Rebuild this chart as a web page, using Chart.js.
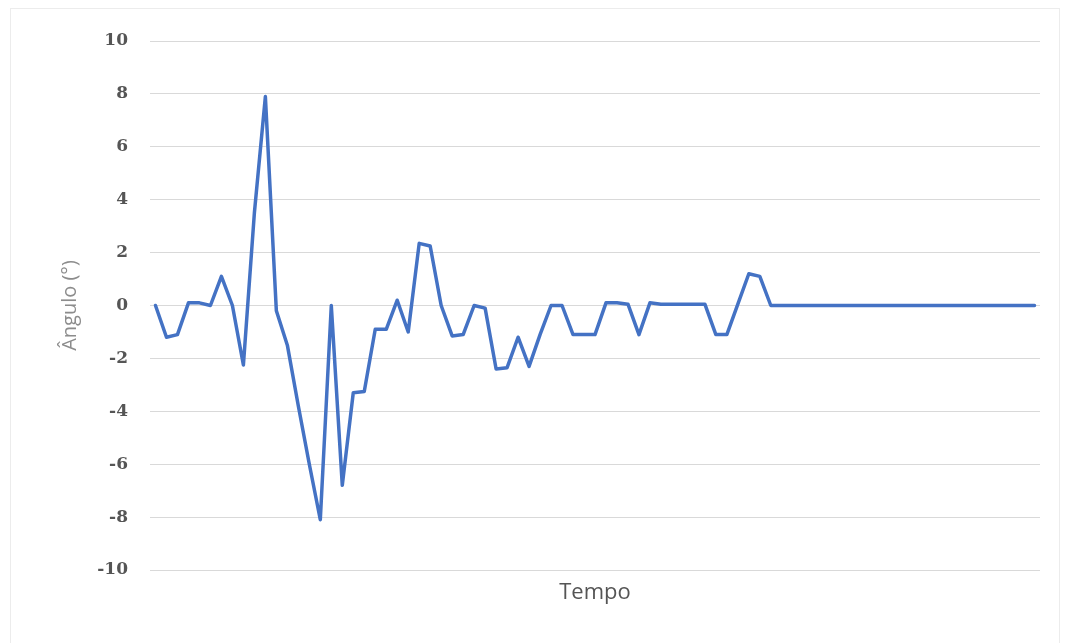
<!DOCTYPE html>
<html>
<head>
<meta charset="utf-8">
<script src="https://cdn.jsdelivr.net/npm/chart.js@4"></script>
<style>
  html, body { margin: 0; padding: 0; background: #fff; }
  #wrap { position: relative; width: 1067px; height: 643px; }
  #frame { position: absolute; left: 10px; top: 8px; width: 1050px; height: 640px; border: 1px solid #ececec; box-sizing: border-box; }
  canvas { position: absolute; left: 0; top: 0; }
</style>
</head>
<body>
<div id="wrap">
  <div id="frame"></div>
  <canvas id="angleChart" width="1067" height="643"></canvas>
</div>
<script>
// amostras de tempo (eixo X sem rótulos)
const tempo = Array.from({ length: 81 }, (_, i) => String(i + 1))

// ângulo, em graus
const angulo = [
  0, -1.2, -1.1, 0.1, 0.1, 0, 1.1, 0, -2.25, 3.5,
  7.9, -0.2, -1.5, -3.8, -6.0, -8.1, 0, -6.8, -3.3, -3.25,
  -0.9, -0.9, 0.2, -1.0, 2.35, 2.25, 0, -1.15, -1.1, 0,
  -0.1, -2.4, -2.35, -1.2, -2.3, -1.1, 0, 0, -1.1, -1.1,
  -1.1, 0.1, 0.1, 0.05, -1.1, 0.1, 0.05, 0.05, 0.05, 0.05,
  0.05, -1.1, -1.1, 0.05, 1.2, 1.1, 0, 0, 0, 0,
  0, 0, 0, 0, 0, 0, 0, 0, 0, 0,
  0, 0, 0, 0, 0, 0, 0, 0, 0, 0,
  0,
]

const yMin = -10
const yMax = 10
const yStep = 2

const ctx = document.getElementById('angleChart').getContext('2d')

new Chart(ctx, {
  type: 'line',
  data: {
    labels: tempo,
    datasets: [
      {
        data: angulo,
        borderColor: '#4472C4',
        borderWidth: 3.5,
        borderJoinStyle: 'round',
        borderCapStyle: 'round',
        pointRadius: 0,
        tension: 0,
        fill: false,
      },
    ],
  },
  options: {
    responsive: false,
    animation: false,
    layout: {
      padding: { left: 10, right: 27, top: 41, bottom: 10 },
    },
    plugins: {
      legend: { display: false },
      tooltip: { enabled: false },
    },
    scales: {
      x: {
        type: 'category',
        offset: true,
        grid: { display: false },
        border: { display: false },
        ticks: { display: false },
        title: {
          display: true,
          text: 'Tempo',
          color: '#555555',
          font: { family: 'Open Sans', size: 22 },
          padding: { top: 8, bottom: 27 },
        },
        afterFit: (scale) => {
          scale.height = 63
        },
      },
      y: {
        min: yMin,
        max: yMax,
        border: { display: false },
        grid: {
          color: '#d9d9d9',
          lineWidth: 1,
          drawTicks: false,
        },
        ticks: {
          stepSize: yStep,
          padding: 22,
          color: '#555555',
          font: { family: 'DejaVu Serif', size: 17, weight: 'bold' },
        },
        title: {
          display: true,
          text: 'Ângulo (°)',
          color: '#8c8c8c',
          font: { family: 'Open Sans', size: 20 },
          padding: { top: 48, bottom: 0 },
        },
        afterFit: (scale) => {
          scale.width = 140
        },
      },
    },
  },
})
</script>
</body>
</html>
